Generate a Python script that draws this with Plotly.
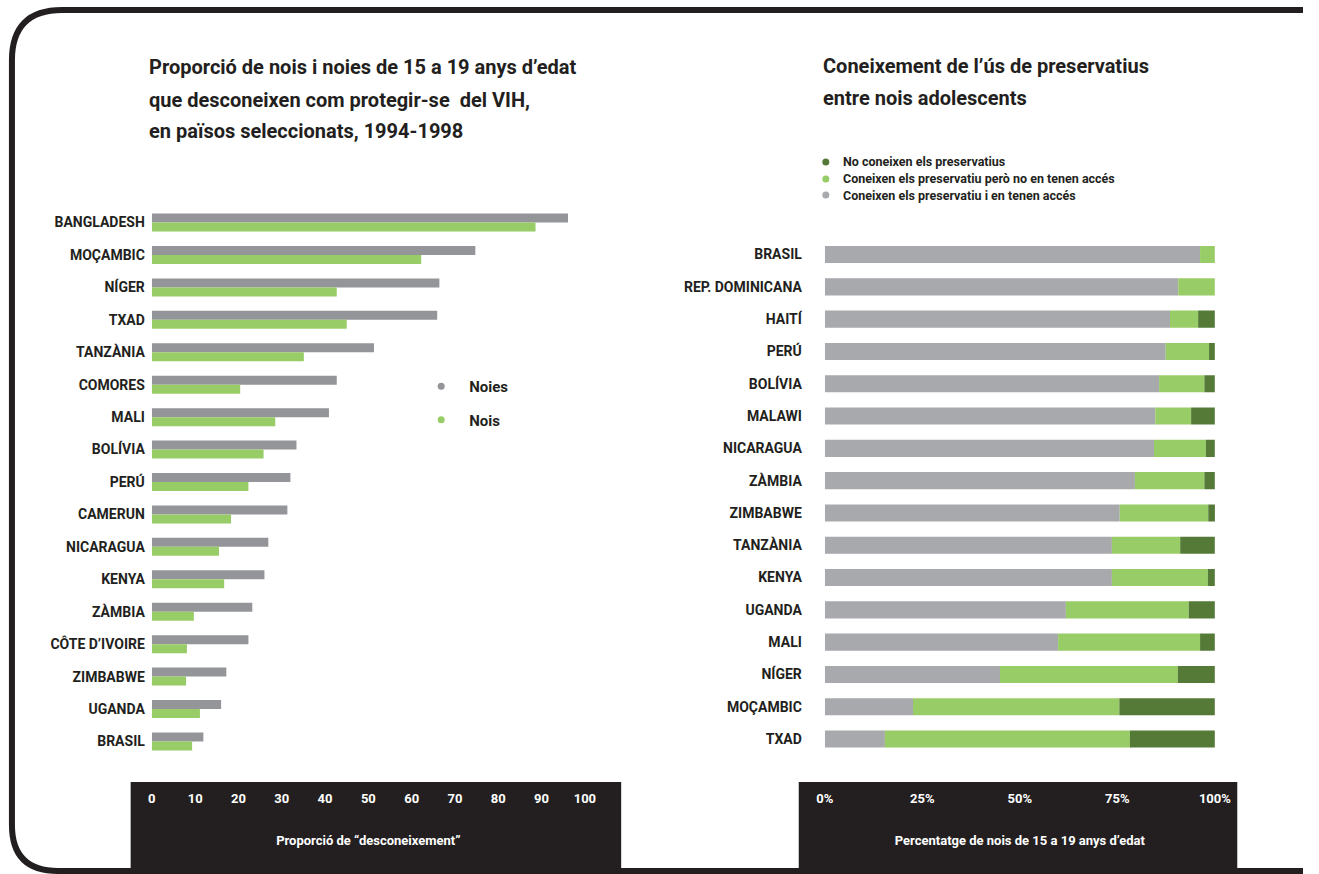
import plotly.graph_objects as go

W, H = 1319, 874
INK = "#231f20"
GRAY_L = "#939598"
GRAY_R = "#a7a9ac"
GREEN = "#98cc66"
DARK_GREEN = "#557a38"
FONT = "Roboto"

# Left panel: share of 15-19 year-olds who do not know how to protect themselves from HIV
countries_left = ["BANGLADESH", "MOÇAMBIC", "NÍGER", "TXAD", "TANZÀNIA", "COMORES", "MALI",
                  "BOLÍVIA", "PERÚ", "CAMERUN", "NICARAGUA", "KENYA", "ZÀMBIA",
                  "CÔTE D’IVOIRE", "ZIMBABWE", "UGANDA", "BRASIL"]
noies = [96.1, 74.7, 66.4, 65.9, 51.3, 42.7, 40.9, 33.4, 32.0, 31.3, 26.9, 26.0, 23.2,
         22.3, 17.2, 16.0, 11.9]
nois = [88.6, 62.2, 42.7, 45.0, 35.1, 20.4, 28.5, 25.8, 22.3, 18.3, 15.5, 16.7, 9.7,
        8.1, 7.9, 11.1, 9.3]
ticks_left = [0, 10, 20, 30, 40, 50, 60, 70, 80, 90, 100]

# Right panel: condom knowledge among adolescent boys (percent)
countries_right = ["BRASIL", "REP. DOMINICANA", "HAITÍ", "PERÚ", "BOLÍVIA", "MALAWI",
                   "NICARAGUA", "ZÀMBIA", "ZIMBABWE", "TANZÀNIA", "KENYA", "UGANDA",
                   "MALI", "NÍGER", "MOÇAMBIC", "TXAD"]
amb_acces = [96.2, 90.6, 88.5, 87.4, 85.7, 84.7, 84.4, 79.5, 75.6, 73.6, 73.6, 61.8,
             59.8, 44.9, 22.6, 15.4]
sense_acces = [3.8, 9.4, 7.2, 11.1, 11.6, 9.2, 13.3, 17.8, 22.7, 17.5, 24.6, 31.5,
               36.4, 45.6, 52.9, 62.8]
no_coneixen = [0.0, 0.0, 4.3, 1.5, 2.7, 6.1, 2.3, 2.7, 1.8, 8.9, 1.8, 6.7,
               3.8, 9.5, 24.5, 21.8]
ticks_right = [0, 25, 50, 75, 100]
ticks_right_text = ["0%", "25%", "50%", "75%", "100%"]
legend_right = ["No coneixen els preservatius",
                "Coneixen els preservatiu però no en tenen accés",
                "Coneixen els preservatiu i en tenen accés"]
legend_right_colors = [DARK_GREEN, GREEN, GRAY_R]


def px_x(x):
    return x / W


def px_y(y):
    return 1 - y / H


fig = go.Figure()

# --- left panel bars
fig.add_trace(go.Bar(y=countries_left, x=noies, orientation="h", marker_color=GRAY_L,
                     marker_line_width=0, showlegend=False, xaxis="x", yaxis="y"))
fig.add_trace(go.Bar(y=countries_left, x=nois, orientation="h", marker_color=GREEN,
                     marker_line_width=0, showlegend=False, xaxis="x", yaxis="y"))

# --- right panel stacked bars (one offset group, segments start at the running total)
fig.add_trace(go.Bar(y=countries_right, x=amb_acces, orientation="h", marker_color=GRAY_R,
                     marker_line_width=0, showlegend=False, xaxis="x2", yaxis="y2",
                     offsetgroup="r"))
fig.add_trace(go.Bar(y=countries_right, x=sense_acces, base=amb_acces, orientation="h",
                     marker_color=GREEN, marker_line_width=0, showlegend=False,
                     xaxis="x2", yaxis="y2", offsetgroup="r"))
fig.add_trace(go.Bar(y=countries_right, x=no_coneixen,
                     base=[a + b for a, b in zip(amb_acces, sense_acces)],
                     orientation="h", marker_color=DARK_GREEN, marker_line_width=0,
                     showlegend=False, xaxis="x2", yaxis="y2", offsetgroup="r"))

# --- left legend: round markers
for name, col in [("Noies", GRAY_L), ("Nois", GREEN)]:
    fig.add_trace(go.Scatter(x=[None], y=[None], mode="markers", name=name,
                             marker=dict(color=col, size=7), legend="legend",
                             legendgroup=name, xaxis="x", yaxis="y"))

shapes = []
# dark bands carrying the x axes
shapes.append(dict(type="rect", xref="paper", yref="paper", x0=px_x(124), x1=px_x(624),
                   y0=px_y(874), y1=px_y(782), fillcolor=INK, line_width=0, layer="below"))
shapes.append(dict(type="rect", xref="paper", yref="paper", x0=px_x(805), x1=px_x(1252),
                   y0=px_y(874), y1=px_y(782), fillcolor=INK, line_width=0, layer="below"))

# outer frame with rounded left corners, open on the right
xl, yt, yb, xr = 3, 10, 871, 1319
r1x, r1y, r2x, r2y = 51, 50, 47, 46
path = (f"M {px_x(xr)},{px_y(yt)} L {px_x(xl + r1x)},{px_y(yt)} "
        f"Q {px_x(xl)},{px_y(yt)} {px_x(xl)},{px_y(yt + r1y)} "
        f"L {px_x(xl)},{px_y(yb - r2y)} "
        f"Q {px_x(xl)},{px_y(yb)} {px_x(xl + r2x)},{px_y(yb)} "
        f"L {px_x(xr)},{px_y(yb)}")
shapes.append(dict(type="path", xref="paper", yref="paper", path=path,
                   line=dict(color=INK, width=6), layer="above"))

# right legend: round markers with labels
for i, (name, col) in enumerate(zip(legend_right, legend_right_colors)):
    yy = [162, 179, 195][i]
    shapes.append(dict(type="circle", xref="paper", yref="paper",
                       xsizemode="pixel", ysizemode="pixel",
                       xanchor=px_x(832.6), yanchor=px_y(yy),
                       x0=-3.5, x1=3.5, y0=-3.5, y1=3.5,
                       fillcolor=col, line_width=0))

title_font = dict(family=FONT, size=20, color=INK, weight="bold")
annotations = []
for txt, y in [("Proporció de nois i noies de 15 a 19 anys d’edat", 67),
               ("que desconeixen com protegir-se  del VIH,", 100),
               ("en països seleccionats, 1994-1998", 131)]:
    annotations.append(dict(text=txt, xref="paper", yref="paper", x=px_x(140.5), y=px_y(y),
                            xanchor="left", yanchor="middle", showarrow=False,
                            font=title_font))
for txt, y in [("Coneixement de l’ús de preservatius", 66),
               ("entre nois adolescents", 98)]:
    annotations.append(dict(text=txt, xref="paper", yref="paper", x=px_x(827.5), y=px_y(y),
                            xanchor="left", yanchor="middle", showarrow=False,
                            font=title_font))
for name, yy in zip(legend_right, [162, 179, 195]):
    annotations.append(dict(text=name, xref="paper", yref="paper", x=px_x(848), y=px_y(yy),
                            xanchor="left", yanchor="middle", showarrow=False,
                            font=dict(family=FONT, size=12.5, color=INK, weight="bold")))

tickfont_y = dict(family=FONT, size=14, color=INK, weight="bold")
tickfont_x = dict(family=FONT, size=13, color="white", weight="bold")
axis_title_font = dict(family=FONT, size=13, color="white", weight="bold")

fig.update_layout(
    width=W, height=H, autosize=False, margin=dict(l=0, r=0, t=0, b=0, pad=0),
    paper_bgcolor="white", plot_bgcolor="rgba(0,0,0,0)",
    barmode="group", bargap=0.445, bargroupgap=0,
    font=dict(family=FONT, color=INK),
    xaxis=dict(domain=[px_x(145.6), px_x(587.0)], range=[0, 100], tickvals=ticks_left,
               showgrid=False, zeroline=False, showline=False, ticks="",
               anchor="free", position=px_y(789), tickfont=tickfont_x,
               title=dict(text="Proporció de “desconeixement”", standoff=30,
                          font=axis_title_font)),
    yaxis=dict(domain=[px_y(757.7), px_y(206.3)], categoryorder="array",
               categoryarray=countries_left, range=[len(countries_left) - 0.5, -0.5],
               showgrid=False, zeroline=False, showline=False, ticks="",
               ticklabelstandoff=6, tickfont=tickfont_y, anchor="x"),
    xaxis2=dict(domain=[px_x(831.6), px_x(1229.2)], range=[0, 100], tickvals=ticks_right,
                ticktext=ticks_right_text, showgrid=False, zeroline=False, showline=False,
                ticks="", anchor="free", position=px_y(789), tickfont=tickfont_x,
                title=dict(text="Percentatge de nois de 15 a 19 anys d’edat", standoff=30,
                           font=axis_title_font)),
    yaxis2=dict(domain=[px_y(755.2), px_y(238.4)], categoryorder="array",
                categoryarray=countries_right, range=[len(countries_right) - 0.5, -0.5],
                showgrid=False, zeroline=False, showline=False, ticks="",
                ticklabelstandoff=22, tickfont=tickfont_y, anchor="x2"),
    legend=dict(x=px_x(412), y=px_y(370), xanchor="left", yanchor="top",
                bgcolor="rgba(0,0,0,0)", tracegroupgap=11, itemwidth=46,
                font=dict(family=FONT, size=15, color=INK, weight="bold")),
    shapes=shapes, annotations=annotations,
)

# stacked right-panel bars sit in one offset group; keep their thickness
fig.update_traces(width=0.53, selector=dict(offsetgroup="r"))

fig.write_html("out.html", config={"displayModeBar": False, "responsive": False},
               post_script="document.body.style.margin='0';"
                           "document.body.style.overflow='hidden';")
